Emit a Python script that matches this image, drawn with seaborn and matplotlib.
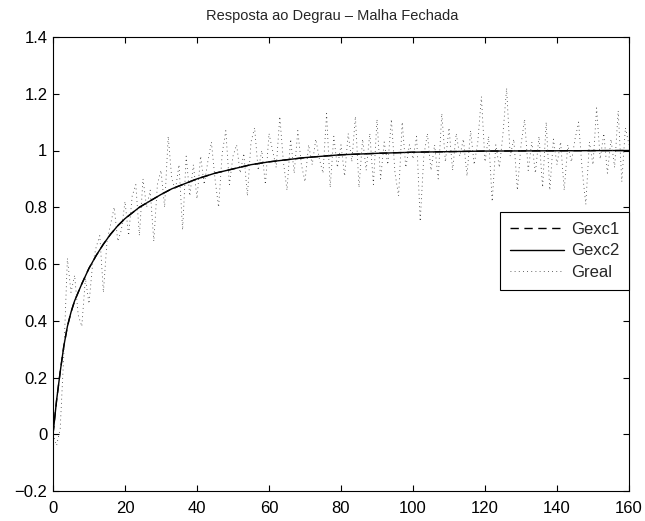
import numpy as np
import pandas as pd
import matplotlib
matplotlib.use("Agg")
import matplotlib.pyplot as plt
import seaborn as sns

# ---- data ----
t_model = [0, 1, 2, 3, 4, 5, 6, 8, 10, 12, 14, 16, 18, 20, 22, 24, 26, 28, 30, 33, 36, 40,
           45, 50, 55, 60, 70, 80, 90, 100, 120, 140, 160]
gexc1 = [0.0, 0.12, 0.22, 0.31, 0.38, 0.43, 0.47, 0.53, 0.585, 0.63, 0.67, 0.705, 0.735, 0.76,
         0.78, 0.80, 0.815, 0.83, 0.845, 0.865, 0.88, 0.90, 0.92, 0.935, 0.95, 0.96, 0.975,
         0.985, 0.99, 0.994, 0.998, 0.999, 1.0]
gexc2 = [0.0, 0.12, 0.22, 0.31, 0.38, 0.43, 0.47, 0.53, 0.585, 0.63, 0.67, 0.705, 0.735, 0.76,
         0.78, 0.80, 0.815, 0.83, 0.845, 0.865, 0.88, 0.90, 0.92, 0.935, 0.95, 0.96, 0.975,
         0.985, 0.99, 0.994, 0.998, 0.999, 1.0]

t_real = list(range(0, 161))
greal = [
    0.00, -0.04, 0.02, 0.28, 0.62, 0.50, 0.56, 0.42, 0.38, 0.55,
    0.46, 0.60, 0.66, 0.70, 0.50, 0.68, 0.74, 0.80, 0.68, 0.72,
    0.82, 0.70, 0.84, 0.88, 0.70, 0.90, 0.80, 0.86, 0.68, 0.88,
    0.93, 0.80, 1.05, 0.90, 0.86, 0.95, 0.72, 0.98, 0.84, 0.95,
    0.83, 0.98, 0.88, 0.96, 1.03, 0.90, 0.80, 0.99, 1.07, 0.88,
    0.98, 1.02, 0.92, 0.99, 0.84, 1.03, 1.08, 0.93, 1.00, 0.88,
    1.06, 1.00, 0.94, 1.12, 0.96, 0.86, 1.04, 0.92, 1.07, 0.95,
    0.89, 1.02, 0.95, 1.04, 0.97, 0.92, 1.13, 0.87, 1.05, 0.94,
    1.02, 0.91, 1.06, 0.96, 1.12, 0.87, 1.04, 0.93, 1.06, 0.88,
    1.11, 0.90, 1.03, 0.95, 1.11, 0.92, 0.84, 1.10, 0.94, 1.02,
    0.97, 1.05, 0.75, 0.98, 1.06, 0.93, 1.02, 0.90, 1.13, 0.96,
    1.08, 0.93, 1.06, 0.98, 1.04, 0.91, 1.07, 0.95, 1.03, 1.19,
    0.96, 1.05, 0.82, 1.02, 0.94, 1.06, 1.22, 0.98, 1.04, 0.86,
    1.02, 1.11, 0.93, 1.03, 0.92, 1.05, 0.87, 1.10, 0.86, 1.04,
    0.95, 1.03, 0.86, 1.02, 0.96, 1.04, 1.10, 0.93, 0.81, 1.03,
    0.95, 1.15, 0.97, 1.06, 0.92, 1.04, 0.94, 1.14, 0.89, 1.08,
    1.02,
]

x_ticks = [0, 20, 40, 60, 80, 100, 120, 140, 160]
x_ticklabels = ["0", "20", "40", "60", "80", "100", "120", "140", "160"]
y_ticks = [-0.2, 0, 0.2, 0.4, 0.6, 0.8, 1.0, 1.2, 1.4]
y_ticklabels = ["\u22120.2", "0", "0.2", "0.4", "0.6", "0.8", "1", "1.2", "1.4"]
title = "Resposta ao Degrau \u2013 Malha Fechada"
labels = ["Gexc1", "Gexc2", "Greal"]

# ---- style ----
sns.set_style("white")
plt.rcParams["font.family"] = ["Liberation Sans", "DejaVu Sans"]
plt.rcParams["font.size"] = 12

fig = plt.figure(figsize=(6.45, 5.21), dpi=100)
ax = fig.add_axes([53 / 645, 1 - 491 / 521, 576 / 645, 454 / 521])

df_model = pd.DataFrame({"t": t_model, "g1": gexc1, "g2": gexc2})
df_real = pd.DataFrame({"t": t_real, "gr": greal})

sns.lineplot(data=df_model, x="t", y="g1", ax=ax, color="black", linewidth=1.0,
             label=labels[0], linestyle=(0, (6, 4)), sort=False)
sns.lineplot(data=df_model, x="t", y="g2", ax=ax, color="black", linewidth=1.0,
             label=labels[1], sort=False)
sns.lineplot(data=df_real, x="t", y="gr", ax=ax, color="#333333", linewidth=0.6,
             linestyle=(0, (1, 4)), label=labels[2], sort=False)

ax.set_xlim(0, 160)
ax.set_ylim(-0.2, 1.4)
ax.set_xticks(x_ticks)
ax.set_xticklabels(x_ticklabels)
ax.set_yticks(y_ticks)
ax.set_yticklabels(y_ticklabels)
ax.set_xlabel("")
ax.set_ylabel("")
ax.set_title(title, fontsize=10.5, pad=12, x=0.485)

ax.tick_params(direction="in", length=4, width=0.8, top=True, right=True,
               bottom=True, left=True, labelsize=12, colors="black")
ax.tick_params(axis="x", pad=7)
ax.tick_params(axis="y", pad=4)
for sp in ax.spines.values():
    sp.set_visible(True)
    sp.set_color("black")
    sp.set_linewidth(0.8)

leg = ax.legend(loc="upper right", bbox_to_anchor=(1.0, 0.6145), borderaxespad=0,
                frameon=True, fancybox=False, shadow=False, handlelength=3.2,
                fontsize=12, borderpad=0.6, labelspacing=0.38, handletextpad=0.42)
leg.get_frame().set_edgecolor("black")
leg.get_frame().set_linewidth(0.8)
leg.get_frame().set_alpha(1)

fig.savefig("out.png", dpi=100)
